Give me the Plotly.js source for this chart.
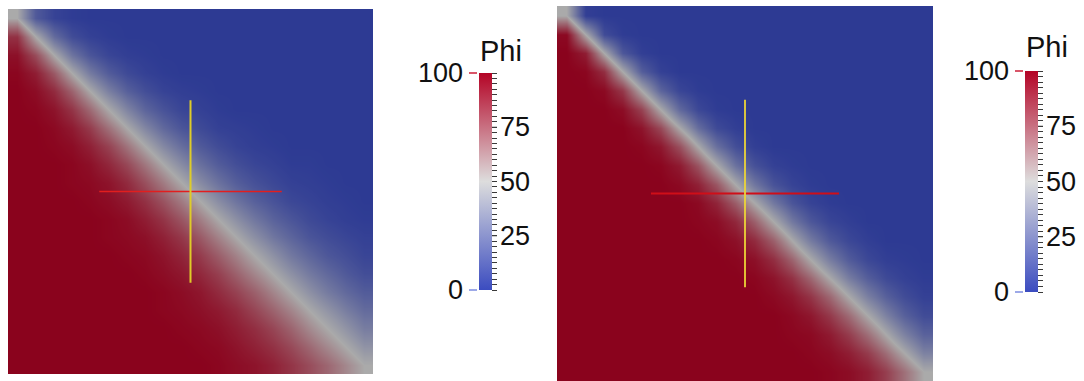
<!DOCTYPE html>
<html>
<head>
<meta charset="utf-8">
<script src="https://cdn.plot.ly/plotly-3.0.1.min.js"></script>
<style>
  html, body { margin: 0; padding: 0; background: #ffffff; }
  #chart { width: 1084px; height: 381px; }
</style>
</head>
<body>
<div id="chart"></div>
<script>
// Phi on a 20 x 20 grid of cells, rows from top to bottom, columns left to right.
// Wider (more diffused) front.
const phiLeft = [
  [50, 14, 4, 1, 0, 0, 0, 0, 0, 0, 0, 0, 0, 0, 0, 0, 0, 0, 0, 0],
  [86, 50, 22, 8, 3, 1, 0, 0, 0, 0, 0, 0, 0, 0, 0, 0, 0, 0, 0, 0],
  [96, 78, 50, 26, 12, 5, 2, 1, 0, 0, 0, 0, 0, 0, 0, 0, 0, 0, 0, 0],
  [99, 92, 74, 50, 29, 15, 7, 3, 1, 0, 0, 0, 0, 0, 0, 0, 0, 0, 0, 0],
  [100, 97, 88, 71, 50, 31, 17, 9, 4, 2, 1, 0, 0, 0, 0, 0, 0, 0, 0, 0],
  [100, 99, 95, 85, 69, 50, 33, 19, 11, 5, 3, 1, 0, 0, 0, 0, 0, 0, 0, 0],
  [100, 100, 98, 93, 83, 67, 50, 34, 21, 12, 7, 3, 2, 1, 0, 0, 0, 0, 0, 0],
  [100, 100, 99, 97, 91, 81, 66, 50, 35, 23, 14, 8, 4, 2, 1, 0, 0, 0, 0, 0],
  [100, 100, 100, 99, 96, 89, 79, 65, 50, 36, 24, 15, 9, 5, 3, 1, 1, 0, 0, 0],
  [100, 100, 100, 99, 98, 95, 88, 77, 64, 50, 36, 25, 16, 10, 6, 3, 2, 1, 0, 0],
  [100, 100, 100, 100, 99, 97, 93, 86, 76, 64, 50, 37, 26, 17, 11, 6, 4, 2, 1, 0],
  [100, 100, 100, 100, 100, 99, 97, 92, 85, 75, 63, 50, 38, 27, 18, 12, 7, 4, 2, 1],
  [100, 100, 100, 100, 100, 99, 98, 96, 91, 84, 74, 62, 50, 38, 27, 19, 12, 8, 5, 3],
  [100, 100, 100, 100, 100, 100, 99, 98, 95, 90, 83, 73, 62, 50, 39, 28, 20, 13, 9, 5],
  [100, 100, 100, 100, 100, 100, 100, 99, 97, 94, 89, 82, 72, 61, 50, 39, 29, 21, 14, 9],
  [100, 100, 100, 100, 100, 100, 100, 100, 99, 97, 94, 88, 81, 72, 61, 50, 39, 29, 21, 15],
  [100, 100, 100, 100, 100, 100, 100, 100, 99, 98, 96, 93, 88, 80, 71, 61, 50, 40, 30, 22],
  [100, 100, 100, 100, 100, 100, 100, 100, 100, 99, 98, 96, 92, 87, 80, 71, 60, 50, 40, 30],
  [100, 100, 100, 100, 100, 100, 100, 100, 100, 100, 99, 98, 95, 91, 86, 79, 70, 60, 50, 40],
  [100, 100, 100, 100, 100, 100, 100, 100, 100, 100, 100, 99, 97, 95, 91, 85, 78, 70, 60, 50]
];

// Sharper front.
const phiRight = [
  [50, 2, 0, 0, 0, 0, 0, 0, 0, 0, 0, 0, 0, 0, 0, 0, 0, 0, 0, 0],
  [98, 50, 8, 1, 0, 0, 0, 0, 0, 0, 0, 0, 0, 0, 0, 0, 0, 0, 0, 0],
  [100, 92, 50, 13, 2, 0, 0, 0, 0, 0, 0, 0, 0, 0, 0, 0, 0, 0, 0, 0],
  [100, 99, 87, 50, 16, 3, 0, 0, 0, 0, 0, 0, 0, 0, 0, 0, 0, 0, 0, 0],
  [100, 100, 98, 84, 50, 19, 5, 1, 0, 0, 0, 0, 0, 0, 0, 0, 0, 0, 0, 0],
  [100, 100, 100, 97, 81, 50, 21, 6, 1, 0, 0, 0, 0, 0, 0, 0, 0, 0, 0, 0],
  [100, 100, 100, 100, 95, 79, 50, 23, 7, 2, 0, 0, 0, 0, 0, 0, 0, 0, 0, 0],
  [100, 100, 100, 100, 99, 94, 77, 50, 24, 9, 2, 0, 0, 0, 0, 0, 0, 0, 0, 0],
  [100, 100, 100, 100, 100, 99, 93, 76, 50, 25, 10, 3, 1, 0, 0, 0, 0, 0, 0, 0],
  [100, 100, 100, 100, 100, 100, 98, 91, 75, 50, 27, 11, 4, 1, 0, 0, 0, 0, 0, 0],
  [100, 100, 100, 100, 100, 100, 100, 98, 90, 73, 50, 28, 12, 4, 1, 0, 0, 0, 0, 0],
  [100, 100, 100, 100, 100, 100, 100, 99, 97, 89, 72, 50, 28, 13, 5, 2, 0, 0, 0, 0],
  [100, 100, 100, 100, 100, 100, 100, 100, 99, 96, 88, 72, 50, 29, 14, 6, 2, 0, 0, 0],
  [100, 100, 100, 100, 100, 100, 100, 100, 100, 99, 96, 87, 71, 50, 30, 15, 6, 2, 1, 0],
  [100, 100, 100, 100, 100, 100, 100, 100, 100, 100, 99, 95, 86, 70, 50, 30, 16, 7, 3, 1],
  [100, 100, 100, 100, 100, 100, 100, 100, 100, 100, 100, 98, 94, 85, 70, 50, 31, 17, 8, 3],
  [100, 100, 100, 100, 100, 100, 100, 100, 100, 100, 100, 100, 98, 94, 84, 69, 50, 32, 17, 8],
  [100, 100, 100, 100, 100, 100, 100, 100, 100, 100, 100, 100, 99, 98, 93, 83, 68, 50, 32, 18],
  [100, 100, 100, 100, 100, 100, 100, 100, 100, 100, 100, 100, 100, 99, 97, 92, 83, 68, 50, 32],
  [100, 100, 100, 100, 100, 100, 100, 100, 100, 100, 100, 100, 100, 100, 99, 97, 92, 82, 67, 50]
];

// Probe lines through the middle of each domain (domain units 0..1).
const probeHorizX = [0.25, 0.75];
const probeHorizY = [0.5, 0.5];
const probeVertX = [0.5, 0.5];
const probeVertY = [0.25, 0.75];

// Scalar range and colour legend labels.
const scalarName = 'Phi';
const phiRange = [0, 100];
const phiTickValues = [25, 50, 75];
const phiTickLabels = ['25', '50', '75'];
const phiRangeLabels = ['0', '100'];
const phiMinorStep = 2.5;

const coolWarm = [
  [0.0, 'rgb(59,76,192)'],
  [0.5, 'rgb(221,221,221)'],
  [1.0, 'rgb(180,4,38)']
];

// Page geometry in pixels.
const W = 1084, H = 381;
const px = v => v / W;
const py = v => 1 - v / H;

const panels = [
  {
    field: phiLeft, xa: 'x', ya: 'y',
    box: { l: 8, t: 9, r: 373, b: 374 },
    bar: { l: 479, t: 73, r: 492, b: 290 },
    titleY: 51,
    horiz: { color: 'rgb(226,30,30)', width: 1.5 },
    vert: { color: 'rgb(222,204,40)', width: 2 }
  },
  {
    field: phiRight, xa: 'x2', ya: 'y2',
    box: { l: 557, t: 6, r: 933, b: 381 },
    bar: { l: 1025, t: 71, r: 1038, b: 292 },
    titleY: 47,
    horiz: { color: 'rgb(208,14,24)', width: 2.2 },
    vert: { color: 'rgb(236,212,56)', width: 1.8 }
  }
];

const FONT = 'Liberation Sans, Arial, sans-serif';
const traces = [];
const annotations = [];
const shapes = [];
const layout = {
  width: W, height: H,
  margin: { l: 0, r: 0, t: 0, b: 0, pad: 0 },
  paper_bgcolor: '#ffffff',
  plot_bgcolor: '#000000',
  showlegend: false,
  font: { family: FONT, color: '#111111' }
};

panels.forEach((p, i) => {
  const n = p.field.length;
  const sfx = i === 0 ? '' : String(i + 1);
  layout['xaxis' + sfx] = {
    domain: [px(p.box.l), px(p.box.r)], range: [0, 1],
    visible: false, fixedrange: true, anchor: p.ya
  };
  layout['yaxis' + sfx] = {
    domain: [Math.max(0, py(p.box.b)), py(p.box.t)], range: [1, 0],
    visible: false, fixedrange: true, anchor: p.xa
  };

  const barBottom = py(p.bar.b);
  const barLen = py(p.bar.t) - barBottom;
  const valueY = v => barBottom + (v - phiRange[0]) / (phiRange[1] - phiRange[0]) * barLen;

  // Scalar field; the plot background is black so the opacity darkens
  // the surface like a lit render while the legend keeps the true colours.
  traces.push({
    type: 'heatmap', z: p.field, xaxis: p.xa, yaxis: p.ya,
    x0: 0.5 / n, dx: 1 / n, y0: 0.5 / n, dy: 1 / n,
    zmin: phiRange[0], zmax: phiRange[1], zsmooth: 'best',
    colorscale: coolWarm, opacity: 0.77, hoverinfo: 'skip',
    showscale: true,
    colorbar: {
      x: px(p.bar.l), xanchor: 'left', xpad: 0,
      y: barBottom, yanchor: 'bottom', ypad: 0,
      len: barLen, lenmode: 'fraction',
      thickness: p.bar.r - p.bar.l, thicknessmode: 'pixels',
      outlinewidth: 0, bgcolor: 'rgba(0,0,0,0)',
      tickmode: 'linear', tick0: phiRange[0], dtick: phiMinorStep,
      ticks: 'outside', ticklen: 5, tickwidth: 1, tickcolor: '#3a3a3a',
      showticklabels: false
    }
  });

  traces.push({
    type: 'scatter', mode: 'lines', x: probeHorizX, y: probeHorizY,
    xaxis: p.xa, yaxis: p.ya, line: p.horiz, hoverinfo: 'skip'
  });
  traces.push({
    type: 'scatter', mode: 'lines', x: probeVertX, y: probeVertY,
    xaxis: p.xa, yaxis: p.ya, line: p.vert, hoverinfo: 'skip'
  });

  // Legend title, range labels and labelled ticks.
  annotations.push({
    xref: 'paper', yref: 'paper', x: px(p.bar.l - 1), y: py(p.titleY),
    xanchor: 'left', yanchor: 'middle', text: scalarName, showarrow: false,
    font: { family: FONT, size: 29, color: '#111111' }
  });
  phiRangeLabels.forEach((lab, j) => {
    annotations.push({
      xref: 'paper', yref: 'paper', x: px(p.bar.l - 14), y: valueY(phiRange[j]),
      xanchor: 'right', yanchor: 'middle', text: lab, showarrow: false,
      font: { family: FONT, size: 27, color: '#111111' }
    });
  });
  phiTickValues.forEach((v, j) => {
    annotations.push({
      xref: 'paper', yref: 'paper', x: px(p.bar.r + 6), y: valueY(v),
      xanchor: 'left', yanchor: 'middle', text: phiTickLabels[j], showarrow: false,
      font: { family: FONT, size: 27, color: '#111111' }
    });
    shapes.push({
      type: 'line', xref: 'paper', yref: 'paper',
      x0: px(p.bar.r - 5), x1: px(p.bar.r + 5), y0: valueY(v), y1: valueY(v),
      line: { color: '#3a3a3a', width: 1 }
    });
  });

  // Range end markers beside the bar.
  shapes.push({
    type: 'line', xref: 'paper', yref: 'paper',
    x0: px(p.bar.l - 10), x1: px(p.bar.l - 2), y0: valueY(phiRange[1]), y1: valueY(phiRange[1]),
    line: { color: 'rgb(205,30,55)', width: 1.5 }
  });
  shapes.push({
    type: 'line', xref: 'paper', yref: 'paper',
    x0: px(p.bar.l - 10), x1: px(p.bar.l - 2), y0: valueY(phiRange[0]), y1: valueY(phiRange[0]),
    line: { color: 'rgb(125,140,225)', width: 1.5 }
  });
});

layout.annotations = annotations;
layout.shapes = shapes;

Plotly.newPlot('chart', traces, layout, { staticPlot: true, displayModeBar: false });
</script>
</body>
</html>
